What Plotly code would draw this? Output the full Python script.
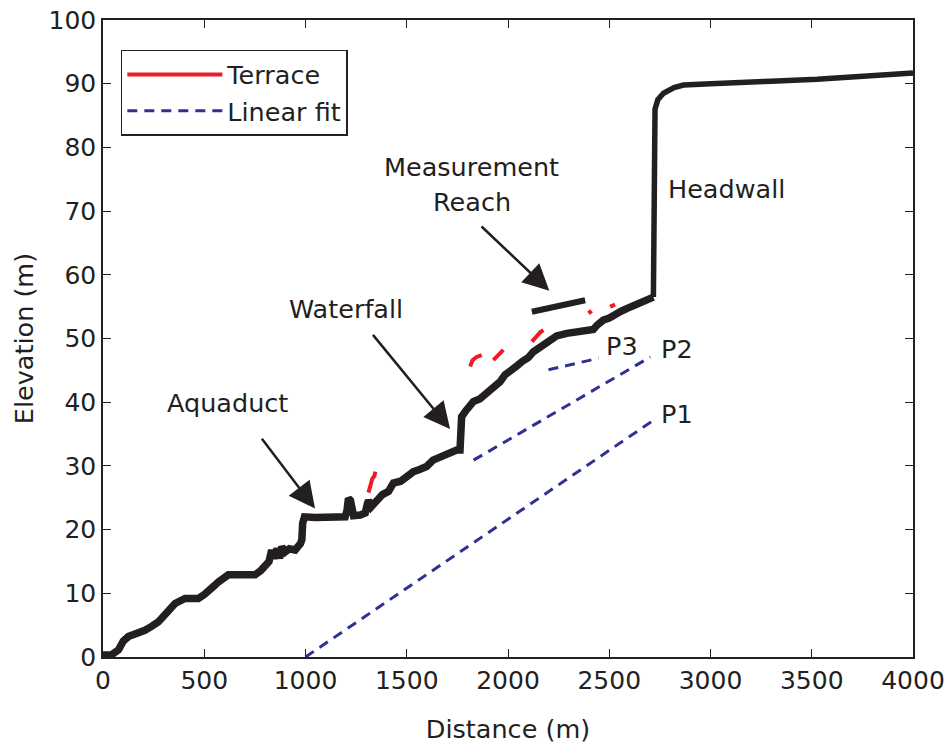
import plotly.graph_objects as go

# ---------------- data ----------------
# river long profile, lower reach (up to the base of the headwall)
profile_x = [0, 40, 76, 100, 125, 170, 207, 240, 273, 310, 356, 405, 471, 500, 520, 550, 570, 600, 619, 700, 751,
             780, 800, 820, 833, 845, 860, 872, 883, 900, 920, 949, 975, 982, 986, 995, 1050, 1113, 1196, 1205,
             1212, 1222, 1228, 1237, 1270, 1295, 1305, 1311, 1325, 1344, 1380, 1410, 1434, 1470, 1500, 1533, 1560,
             1598, 1630, 1664, 1700, 1747, 1763, 1768, 1771, 1790, 1829, 1860, 1895, 1930, 1960, 1985, 2010,
             2040, 2070, 2100, 2125, 2160, 2207, 2240, 2290, 2350, 2421, 2440, 2471, 2500, 2537, 2560, 2586,
             2620, 2650, 2668, 2700, 2718]
profile_y = [0.3, 0.3, 1.1, 2.5, 3.2, 3.6, 4.2, 4.8, 5.5, 6.8, 8.4, 9.2, 9.2, 9.8, 10.5, 11.2, 11.8, 12.6, 12.9, 12.9, 12.9,
             13.6, 14.2, 15.0, 16.8, 15.5, 17.0, 15.5, 17.3, 16.5, 17.0, 16.8, 17.8, 18.4, 21.0, 22.0, 21.9, 22.0, 22.0, 23.0,
             24.9, 24.6, 22.4, 22.2, 22.3, 22.6, 24.0, 24.6, 23.6, 24.2, 25.5, 26.0, 27.3, 27.6, 28.5, 29.1, 29.4,
             29.9, 30.9, 31.4, 32.1, 32.5, 32.5, 35.5, 37.7, 38.6, 40.1, 40.5, 41.4, 42.6, 43.2, 44.3, 44.8,
             45.6, 46.4, 47.0, 47.9, 48.6, 49.8, 50.4, 50.8, 51.1, 51.4, 52.1, 52.9, 53.2, 53.7, 54.3, 54.7,
             55.2, 55.6, 56.0, 56.3, 56.5]
# headwall and upper plateau
upper_x = [2718, 2720, 2726, 2740, 2768, 2820, 2867, 3000, 3114, 3300, 3526, 3800, 4000]
upper_y = [56.5, 70.0, 86.0, 87.5, 88.5, 89.4, 89.8, 90.0, 90.2, 90.4, 90.7, 91.2, 91.7]

# terrace segments (separated by None)
terrace_x = [1311, 1320, 1330, 1340, 1345, None,
             1813, 1825, 1845, 1870, None,
             1928, 1950, 1977, None,
             2118, 2140, 2160, 2175, None,
             2398, 2412, None,
             2504, 2529]
terrace_y = [25.8, 27.0, 28.0, 28.4, 29.1, None,
             45.6, 46.6, 47.1, 47.4, None,
             46.6, 47.4, 48.2, None,
             49.5, 50.4, 51.0, 51.3, None,
             54.4, 53.9, None,
             55.0, 55.3]

# linear fits P1, P2, P3
fit_x = [1000, 2720, None, 1830, 2703, None, 2200, 2447]
fit_y = [0.0, 37.2, None, 30.9, 47.1, None, 45.1, 46.9]

# measurement reach bar
reach_x = [2118, 2381]
reach_y = [54.2, 56.0]

# text labels
label_text = ["Aquaduct", "Waterfall", "Measurement", "Reach", "Headwall", "P3", "P2", "P1"]
label_x = [615, 1200, 1822, 1822, 3080, 2563, 2835, 2835]
label_y = [39.8, 54.6, 76.9, 71.4, 73.5, 48.8, 48.4, 38.1]

# arrows: (tail x, tail y) -> (head x, head y)
arrow_tail_x = [779, 1327, 1862]
arrow_tail_y = [34.5, 50.8, 67.8]
arrow_head_x = [1047, 1714, 2204]
arrow_head_y = [23.3, 35.8, 57.5]

x_ticks = [0, 500, 1000, 1500, 2000, 2500, 3000, 3500, 4000]
y_ticks = [0, 10, 20, 30, 40, 50, 60, 70, 80, 90, 100]

# ---------------- styles ----------------
INK = "#231f20"
RED = "#ed1c24"
BLUE = "#2e3192"
FONT = "DejaVu Sans"
TXT = 25.5

fig = go.Figure()
fig.add_trace(go.Scatter(x=profile_x, y=profile_y, mode="lines",
                         line=dict(color=INK, width=7.5), showlegend=False, name="Profile"))
fig.add_trace(go.Scatter(x=upper_x, y=upper_y, mode="lines",
                         line=dict(color=INK, width=5.5), showlegend=False, name="Profile (upper)"))
fig.add_trace(go.Scatter(x=terrace_x, y=terrace_y, mode="lines", connectgaps=False,
                         line=dict(color=RED, width=4), name="Terrace"))
fig.add_trace(go.Scatter(x=fit_x, y=fit_y, mode="lines", connectgaps=False,
                         line=dict(color=BLUE, width=3, dash="10px,7px"), name="Linear fit"))
fig.add_trace(go.Scatter(x=reach_x, y=reach_y, mode="lines",
                         line=dict(color=INK, width=6), showlegend=False, name="Measurement reach"))

for t, x, y in zip(label_text, label_x, label_y):
    fig.add_annotation(x=x, y=y, text=t, showarrow=False, xanchor="center", yanchor="middle",
                       font=dict(family=FONT, size=TXT, color=INK))

for tx, ty, hx, hy in zip(arrow_tail_x, arrow_tail_y, arrow_head_x, arrow_head_y):
    fig.add_annotation(x=hx, y=hy, ax=tx, ay=ty, xref="x", yref="y", axref="x", ayref="y",
                       text="", showarrow=True, arrowhead=2, arrowsize=2.1, arrowwidth=2.5,
                       arrowcolor=INK, standoff=0)

axis_common = dict(showline=True, linecolor=INK, linewidth=1.5, mirror="ticks", ticks="inside",
                   ticklen=8, tickwidth=1.2, tickcolor=INK, showgrid=False, zeroline=False,
                   automargin=False, tickfont=dict(family=FONT, size=25, color=INK))

fig.update_layout(
    width=947, height=744,
    margin=dict(l=103, r=34, t=20, b=87),
    paper_bgcolor="white", plot_bgcolor="white",
    font=dict(family=FONT, size=TXT, color=INK),
    xaxis=dict(range=[0, 4000], tickvals=x_ticks,
               title=dict(text="Distance (m)", font=dict(family=FONT, size=TXT, color=INK), standoff=26),
               **axis_common),
    yaxis=dict(range=[0, 100], tickvals=y_ticks,
               title=dict(text="Elevation (m)", font=dict(family=FONT, size=TXT, color=INK), standoff=8),
               **axis_common),
    legend=dict(x=0.022, y=0.953, xanchor="left", yanchor="top", bgcolor="white",
                bordercolor=INK, borderwidth=1.5, itemwidth=95,
                font=dict(family=FONT, size=TXT, color=INK)),
)

fig.write_html("out.html", config={"displayModeBar": False},
               post_script="document.body.style.margin='0';")
